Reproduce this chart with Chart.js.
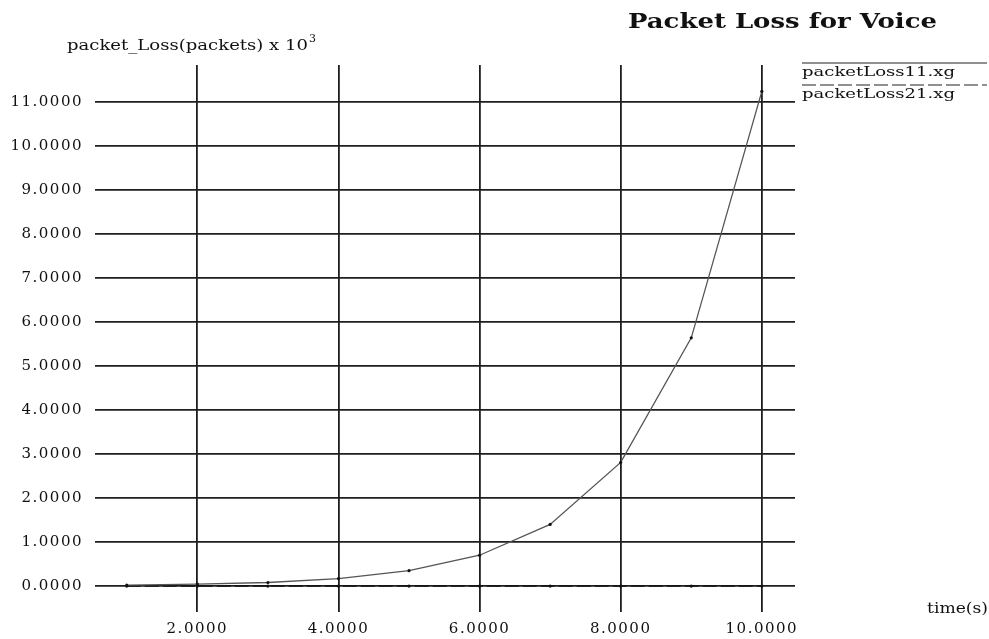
<!DOCTYPE html>
<html>
<head>
<meta charset="utf-8">
<script src="https://cdn.jsdelivr.net/npm/chart.js@4.4.1/dist/chart.umd.min.js"></script>
<style>
  body { margin: 0; background: #fff; }
  canvas { display: block; }
</style>
</head>
<body>
<canvas id="graph1" width="989" height="639"></canvas>
<script>
// dati (pacchetti persi x 10^3)
var times = [1, 2, 3, 4, 5, 6, 7, 8, 9, 10];
var loss11 = [0.02, 0.045, 0.08, 0.17, 0.35, 0.70, 1.40, 2.81, 5.64, 11.24];
var loss21 = [0, 0, 0, 0, 0, 0, 0, 0, 0, 0];
var seriesNames = ["packetLoss11.xg", "packetLoss21.xg"];
var xTicks = [2, 4, 6, 8, 10];
var yTicks = [0, 1, 2, 3, 4, 5, 6, 7, 8, 9, 10, 11];

var serif = "'DejaVu Serif', 'Liberation Serif', serif";

// scrive un testo allargato/stretto fino alla larghezza voluta
function fitText(ctx, text, x, y, width, font) {
	ctx.font = font;
	var w = ctx.measureText(text).width;
	ctx.save();
	ctx.translate(x, y);
	ctx.scale(width / w, 1);
	ctx.fillText(text, 0, 0);
	ctx.restore();
}

var decorPlugin = {
	id: "decor",
	beforeDraw: function(chart) {
		chart.ctx.letterSpacing = "1.5px";
	},
	afterDraw: function(chart) {
		var ctx = chart.ctx;
		ctx.save();
		ctx.letterSpacing = "0px";
		ctx.fillStyle = "#111";
		ctx.textAlign = "left";
		ctx.textBaseline = "alphabetic";

		// titolo
		fitText(ctx, "Packet Loss for Voice", 628, 28, 309, "bold 20px " + serif);

		// etichetta asse y con esponente
		fitText(ctx, "packet_Loss(packets) x 10", 67, 50, 241, "15px " + serif);
		ctx.font = "11px " + serif;
		ctx.fillText("3", 309, 42);

		// etichetta asse x
		fitText(ctx, "time(s)", 927, 613, 61, "14px " + serif);

		// legenda stile xgraph: linea sopra il nome
		var ds = chart.data.datasets;
		for (var i = 0; i < ds.length; i++) {
			var ly = 63 + i * 22;
			ctx.beginPath();
			ctx.strokeStyle = "#222";
			ctx.lineWidth = 1.2;
			ctx.setLineDash(ds[i].borderDash || []);
			ctx.moveTo(802, ly);
			ctx.lineTo(987, ly);
			ctx.stroke();
			ctx.setLineDash([]);
			fitText(ctx, ds[i].label, 802, ly + 13, 153, "13px " + serif);
		}
		ctx.restore();
	}
};

function setTicks(values) {
	return function(scale) {
		scale.ticks = values.map(function(v) { return { value: v }; });
	};
}

var ctx = document.getElementById("graph1").getContext("2d");
var chart = new Chart(ctx, {
	type: "line",
	data: {
		datasets: [
			{
				label: seriesNames[0],
				data: times.map(function(t, i) { return { x: t, y: loss11[i] }; }),
				borderColor: "#555",
				borderWidth: 1.3,
				pointRadius: 1.6,
				pointBackgroundColor: "#111",
				pointBorderColor: "#111",
				pointBorderWidth: 0
			},
			{
				label: seriesNames[1],
				data: times.map(function(t, i) { return { x: t, y: loss21[i] }; }),
				borderColor: "#111",
				borderWidth: 1.2,
				borderDash: [14, 4],
				pointRadius: 1.6,
				pointBackgroundColor: "#111",
				pointBorderColor: "#111",
				pointBorderWidth: 0
			}
		]
	},
	options: {
		responsive: false,
		animation: false,
		layout: { padding: { top: 65, right: 194, bottom: 0, left: 0 } },
		plugins: {
			legend: { display: false },
			title: { display: false },
			tooltip: { enabled: false }
		},
		scales: {
			x: {
				type: "linear",
				min: 0.55,
				max: 10.47,
				afterBuildTicks: setTicks(xTicks),
				afterFit: function(scale) { scale.height = 27; },
				border: { display: false },
				grid: { color: "#1e1e1e", lineWidth: 1.8, drawTicks: false },
				ticks: {
					padding: 8,
					color: "#111",
					font: { family: serif, size: 15 },
					callback: function(v) { return Number(v).toFixed(4); }
				}
			},
			y: {
				type: "linear",
				min: -0.59,
				max: 11.84,
				afterBuildTicks: setTicks(yTicks),
				afterFit: function(scale) { scale.width = 95; },
				border: { display: false },
				grid: { color: "#1e1e1e", lineWidth: 1.8, drawTicks: false },
				ticks: {
					padding: 12,
					color: "#111",
					font: { family: serif, size: 15 },
					callback: function(v) { return Number(v).toFixed(4); }
				}
			}
		}
	},
	plugins: [decorPlugin]
});
</script>
</body>
</html>
